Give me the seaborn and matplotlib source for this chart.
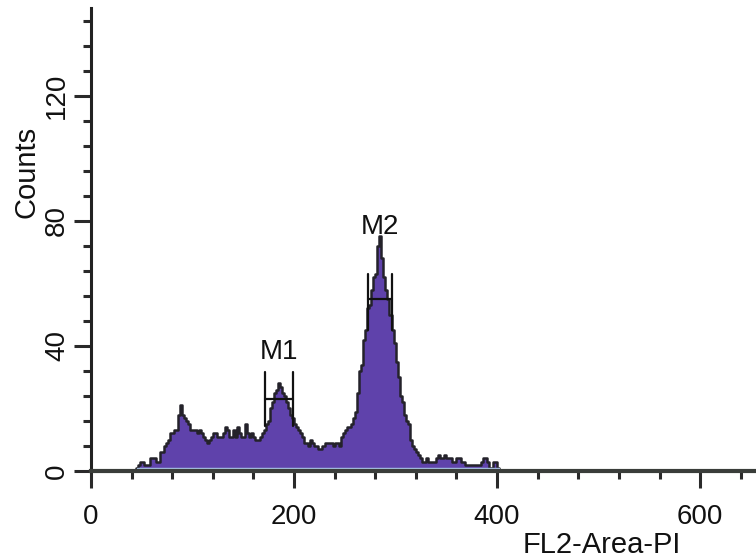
import numpy as np
import pandas as pd
import matplotlib
matplotlib.use("Agg")
import matplotlib.pyplot as plt
import seaborn as sns

# ---------------- data ----------------
bin_start = 44          # FL2-Area channel of the first bin
bin_width = 2
counts = [
    1, 2, 3, 3, 2, 2, 2, 4, 4, 4,          # 44-62
    3, 3, 6, 6, 8, 9, 10, 12, 12, 13,      # 64-82
    13, 18, 21, 18, 17, 16, 15, 13, 13, 13,  # 84-102
    12, 13, 12, 11, 10, 9, 10, 11, 12, 12,   # 104-122
    11, 11, 11, 12, 14, 13, 11, 11, 13, 11,  # 124-142
    14, 12, 11, 11, 15, 12, 11, 12, 11, 10,  # 144-162
    10, 11, 12, 13, 15, 16, 20, 22, 25, 26,  # 164-182
    28, 27, 25, 24, 22, 20, 18, 17, 15, 14,  # 184-202
    13, 12, 11, 9, 9, 8, 10, 9, 8, 8,        # 204-222
    7, 7, 8, 9, 9, 9, 9, 8, 9, 9,            # 224-242
    8, 11, 12, 13, 14, 14, 15, 17, 19, 25,   # 244-262
    32, 34, 42, 45, 52, 53, 58, 62, 63, 72,  # 264-282
    75, 68, 62, 58, 55, 50, 45, 41, 35, 30,  # 284-302
    24, 22, 18, 16, 15, 10, 8, 7, 6, 5,      # 304-322
    4, 3, 3, 4, 3, 3, 3, 3, 4, 5,            # 324-342
    4, 4, 5, 4, 4, 4, 3, 3, 4, 4,            # 344-362
    3, 3, 2, 2, 2, 2, 2, 2, 2, 2,            # 364-382
    3, 4, 4, 3, 1, 1, 3, 3, 1, 0,            # 384-402
]
x_tick_values = [0, 200, 400, 600]
y_tick_values = [0, 40, 80, 120]

# analysis markers (gates)
marker_names = ["M1", "M2"]
marker_left = [171.5, 273]
marker_right = [199, 296.5]
marker_level = [23, 55]
marker_low = [14.5, 45]
marker_high = [31.7, 63]
marker_label_y = [38, 78]

# ---------------- build table ----------------
n = len(counts)
lo_edge = bin_start
hi_edge = bin_start + bin_width * n
df = pd.DataFrame({
    "channel": [bin_start + bin_width * i + bin_width / 2 for i in range(n)],
    "count": counts,
})

sns.set_style("ticks")
plt.rcParams["font.family"] = ["Liberation Sans", "DejaVu Sans"]

fig = plt.figure(figsize=(7.56, 5.58), dpi=100)
ax = fig.add_axes([91 / 756, 87 / 558, 1 - 91 / 756, (471 - 8) / 558])

purple = "#5f42ab"
sns.histplot(data=df, x="channel", weights="count",
             binwidth=bin_width, binrange=(lo_edge, hi_edge),
             element="step", fill=True, color=purple, alpha=1.0,
             edgecolor="#24222a", linewidth=1.8, ax=ax, zorder=2)

# faint baseline under the histogram
ax.plot([lo_edge + 1, hi_edge - 2], [0.9, 0.9], color="#a9c3e6", lw=1.0,
        zorder=2.5)

# markers
for name, l, r, lev, lo, hi, ly in zip(marker_names, marker_left, marker_right,
                                       marker_level, marker_low, marker_high,
                                       marker_label_y):
    ax.plot([l, r], [lev, lev], color="#111111", lw=1.6, zorder=3)
    ax.plot([l, l], [lo, hi], color="#111111", lw=1.6, zorder=3)
    ax.plot([r, r], [lo, hi], color="#111111", lw=1.6, zorder=3)
    ax.text((l + r) / 2, ly, name, ha="center", va="center",
            fontsize=20, color="#111111", zorder=4)

ax.set_xlim(0, 655)
ax.set_ylim(0, 148)

ax.set_xticks(x_tick_values)
ax.set_xticks(np.arange(0, 656, 40), minor=True)
ax.set_yticks(y_tick_values)
ax.set_yticks(np.arange(0, 148, 8), minor=True)

ax.tick_params(axis="x", which="major", length=12, width=2.2, pad=12,
               labelsize=20, color="#2a2a2a", labelcolor="#111111")
ax.tick_params(axis="x", which="minor", length=6, width=2.2, color="#2a2a2a")
ax.tick_params(axis="y", which="major", length=12, width=2.2, pad=3,
               labelsize=20, labelrotation=90, color="#2a2a2a",
               labelcolor="#111111")
ax.tick_params(axis="y", which="minor", length=6, width=2.2, color="#2a2a2a")
for lab in ax.get_yticklabels():
    lab.set_va("center")

sns.despine(ax=ax, top=True, right=True)
ax.spines["left"].set_linewidth(2.2)
ax.spines["left"].set_color("#222222")
ax.spines["bottom"].set_linewidth(3)
ax.spines["bottom"].set_color("#3a3d3a")
ax.spines["bottom"].set_zorder(5)

ax.set_xlabel("FL2-Area-PI", fontsize=21, color="#111111")
ax.xaxis.label.set_va("center")
ax.xaxis.set_label_coords((602 - 91) / 665, (471 - 545) / 463)
ax.set_ylabel("Counts", fontsize=21, color="#111111")
ax.yaxis.label.set_va("center")
ax.yaxis.set_label_coords((26 - 91) / 665, (471 - 172) / 463)

ax.set_facecolor("white")
fig.patch.set_facecolor("white")
fig.savefig("out.png", dpi=100)
